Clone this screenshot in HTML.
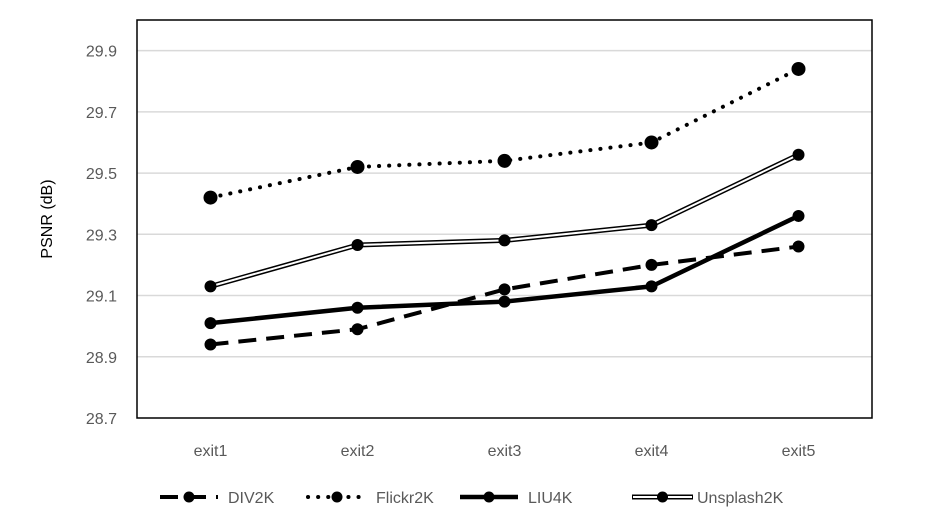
<!DOCTYPE html>
<html><head><meta charset="utf-8"><style>
body{margin:0;background:#fff}
svg{display:block;font-family:"Liberation Sans",sans-serif}
</style></head><body>
<svg id="chart" width="925" height="519" viewBox="0 0 925 519" xmlns="http://www.w3.org/2000/svg">
<g id="grid"></g>
<g id="series"></g>
<rect x="137" y="20" width="735" height="398" fill="none" stroke="#000" stroke-width="1.5"/>
<text transform="translate(52,219) rotate(-90)" text-anchor="middle" font-size="16" fill="#000">PSNR (dB)</text>
<g id="legend"></g>
</svg>
<script>
const categories=["exit1","exit2","exit3","exit4","exit5"];
const yTicks=[28.7,28.9,29.1,29.3,29.5,29.7,29.9];
const div2k=[28.94,28.99,29.12,29.20,29.26];
const flickr2k=[29.42,29.52,29.54,29.60,29.84];
const liu4k=[29.01,29.06,29.08,29.13,29.36];
const unsplash2k=[29.13,29.265,29.28,29.33,29.56];
const NS="http://www.w3.org/2000/svg";
const x0=137,x1=872,yTop=20,yBot=418,yMin=28.7,yMax=30.0;
function xs(i){return x0+(x1-x0)/categories.length*(i+0.5);}
function ys(v){return yBot-(v-yMin)/(yMax-yMin)*(yBot-yTop);}
function mk(t,a,p){const e=document.createElementNS(NS,t);for(const k in a)e.setAttribute(k,a[k]);p.appendChild(e);return e;}
const grid=document.getElementById('grid');
yTicks.forEach(v=>{
  if(v>yMin){const l=mk('line',{x1:x0,x2:x1,y1:ys(v),y2:ys(v),stroke:'#d9d9d9','stroke-width':1.5},grid);
  
  }
  const t=mk('text',{x:117,y:ys(v)+6,'text-anchor':'end','font-size':16,fill:'#595959'},grid);
  t.textContent=v.toFixed(1);
  
  
});
categories.forEach((c,i)=>{
  const t=mk('text',{x:xs(i),y:456,'text-anchor':'middle','font-size':16,fill:'#595959'},grid);
  t.textContent=c;
  
  
});
const seriesDefs=[
 {name:'DIV2K',data:div2k,style:{'stroke-width':4,'stroke-dasharray':'18 10'},r:6,key:'div2k'},
 {name:'Flickr2K',data:flickr2k,style:{'stroke-width':4,'stroke-dasharray':'0.1 10','stroke-linecap':'round'},r:7,key:'flickr2k'},
 {name:'LIU4K',data:liu4k,style:{'stroke-width':4.5},r:6,key:'liu4k'},
 {name:'Unsplash2K',data:unsplash2k,style:{'stroke-width':5},r:6,key:'unsplash2k',dbl:true}
];
const sg=document.getElementById('series');
seriesDefs.forEach(s=>{
  const g=mk('g',{},sg);
  
  
  const pts=s.data.map((v,i)=>xs(i)+','+ys(v)).join(' ');
  mk('polyline',Object.assign({points:pts,fill:'none',stroke:'#000','stroke-linejoin':'round'},s.style),g);
  if(s.dbl)mk('polyline',{points:pts,fill:'none',stroke:'#fff','stroke-width':2},g);
  s.data.forEach((v,i)=>{
    const c=mk('circle',{cx:xs(i),cy:ys(v),r:s.r,fill:'#000'},g);
    
    
  });
});
const lg=document.getElementById('legend');
const lx=[160,308,460,632];
seriesDefs.forEach((s,k)=>{
  const g=mk('g',{},lg);
  
  
  const a=lx[k],y=497,w=s.dbl?61:58;
  mk('line',Object.assign({x1:a,x2:a+w,y1:y,y2:y,stroke:'#000'},s.style),g);
  if(s.dbl)mk('line',{x1:a+1,x2:a+w-1,y1:y,y2:y,stroke:'#fff','stroke-width':2},g);
  mk('circle',{cx:a+w/2,cy:y,r:5.5,fill:'#000'},g);
  const t=mk('text',{x:a+w+(s.dbl?4:10),y:y+6,'font-size':16,fill:'#595959'},g);
  t.textContent=s.name;
});
</script>
</body></html>
